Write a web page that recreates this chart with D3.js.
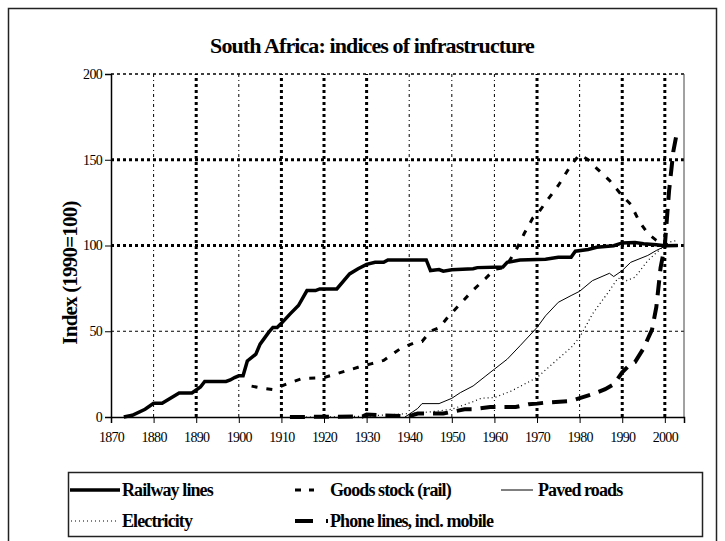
<!DOCTYPE html>
<html>
<head>
<meta charset="utf-8">
<script src="https://cdn.jsdelivr.net/npm/d3@7"></script>
<style>
  body { margin: 0; background: #fff; }
  svg text { font-family: "Liberation Serif", "Times New Roman", serif !important; }
</style>
</head>
<body>
<svg id="chart"></svg>
<script>
// values, index 1990 = 100
const railYears = [1873,1875,1878,1880,1882,1886,1889,1891,1892,1897,1898,1899,1900,1901,1902,1904,1905,1907,1908,1909,1910,1912,1914,1916,1918,1919,1923,1926,1928,1930,1932,1934,1935,1944,1945,1947,1948,1950,1955,1956,1962,1963,1966,1972,1975,1978,1979,1982,1984,1988,1990,1993,1995,1998,2000,2003];
const railValues = [0,1,4.5,8,8,14,14,17.5,20.7,20.7,21.6,23,24,24,32.7,36.6,42.5,49.3,52.2,52.2,54.6,60,65,73.7,73.7,74.7,74.7,83.4,86.4,89,90.2,90.2,91.6,91.6,85.4,86,85,85.8,86.5,87.1,87.5,90.2,91.6,92,93.2,93.2,96.7,97.7,99,99.9,101.5,101.8,101,100.5,99.8,100];

const goodsYears = [1903,1905,1908,1910,1912,1915,1920,1924,1928,1931,1934,1938,1941,1943,1945,1947,1949,1952,1955,1958,1960,1962,1963,1965,1967,1969,1970,1972,1975,1978,1980,1982,1984,1987,1990,1992,1994,1996,1998,2000];
const goodsValues = [18,17,16,18,20,22.5,23,26,29,31,33,40,43,44,50,52,58,66,74,81,86,87,89,97,107,116,118,125,135,147,153,150,145,138,129,124,114,107,103,100];

const pavedYears = [1939,1940,1942,1943,1947,1950,1952,1955,1958,1960,1963,1966,1970,1972,1975,1978,1980,1983,1987,1988,1990,1992,1996,1998,2000,2001];
const pavedValues = [0,1.6,5,7.8,7.8,10.9,14.2,18.1,24,27.9,33.7,41.5,52.2,59,66.9,70.8,73.3,79.5,83.8,81.9,85.4,90.2,94.2,97.1,99.5,100];

const elecYears = [1912,1920,1930,1940,1945,1950,1955,1957,1960,1964,1970,1974,1978,1980,1983,1987,1989,1991,1993,1996,1999,2000,2001,2003];
const elecValues = [0,0,0.5,2,3,4.5,9,11,11.3,15.2,23,31.8,40.5,46.4,60,73.7,81,79.5,81.5,91.2,98,100,102,103];

const phoneYears = [1912,1929,1930,1933,1940,1942,1948,1950,1953,1955,1959,1965,1968,1970,1972,1978,1983,1986,1988,1990,1992,1993,1995,1997,1998,1999,2000,2001,2002,2003];
const phoneValues = [0,0.3,1.5,1,0.5,2,2,3,4.5,4.5,5.8,5.8,7.4,7.8,8.4,9.4,13.3,16.2,19,26,31,32,40,51,64,87,100,132,155,168];

const xTicks = [1870,1880,1890,1900,1910,1920,1930,1940,1950,1960,1970,1980,1990,2000];
const yTicks = [0,50,100,150,200];
const heavyX = [1890,1910,1920,1930,1970,1990,2000];
const heavyY = [100,150];

const W = 725, H = 541;
const svg = d3.select("#chart").attr("width", W).attr("height", H);

// chart frame (bottom edge runs off the page)
svg.append("rect")
  .attr("x", 8.5).attr("y", 8.5)
  .attr("width", 708).attr("height", 545)
  .attr("fill", "none").attr("stroke", "#222").attr("stroke-width", 1.5);

svg.append("text")
  .attr("x", 372).attr("y", 53)
  .attr("text-anchor", "middle")
  .attr("font-size", 22).attr("font-weight", "bold")
  .attr("letter-spacing", -0.9)
  .text("South Africa: indices of infrastructure");

const x = d3.scaleLinear().domain([1870, 2004.5]).range([111, 684]);
const y = d3.scaleLinear().domain([0, 200]).range([417, 74]);

// grid
const grid = svg.append("g");
xTicks.slice(1).forEach(t => {
  const heavy = heavyX.includes(t);
  grid.append("line")
    .attr("x1", x(t)).attr("x2", x(t)).attr("y1", y(0)).attr("y2", y(200))
    .attr("stroke", "#000")
    .attr("stroke-width", heavy ? 3 : 1)
    .attr("stroke-dasharray", heavy ? "3,3" : "3,3,1,3");
});
yTicks.slice(1).forEach(t => {
  const heavy = heavyY.includes(t);
  grid.append("line")
    .attr("x1", x(1870)).attr("x2", x(2004.5)).attr("y1", y(t)).attr("y2", y(t))
    .attr("stroke", "#000")
    .attr("stroke-width", heavy ? 3 : (t == 200 ? 1.5 : 1))
    .attr("stroke-dasharray", "3,3");
});
// right border of plot
svg.append("line")
  .attr("x1", x(2004.5)).attr("x2", x(2004.5)).attr("y1", y(0)).attr("y2", y(200))
  .attr("stroke", "#444").attr("stroke-width", 1);

// axes
const yAxis = svg.append("g")
  .attr("transform", `translate(${x(1870)},0)`)
  .call(d3.axisLeft(y).tickValues(yTicks).tickSize(6).tickPadding(3));
const xAxis = svg.append("g")
  .attr("transform", `translate(0,${y(0)})`)
  .call(d3.axisBottom(x).tickValues(xTicks).tickSize(6).tickPadding(9).tickFormat(d3.format("d")));
[yAxis, xAxis].forEach(a => {
  a.attr("font-family", null).attr("font-size", null);
  a.select(".domain").attr("stroke", "#000").attr("stroke-width", 1.5);
  a.selectAll(".tick line").attr("stroke", "#000");
  a.selectAll("text").style("font-size", "14px")
    .attr("letter-spacing", -0.7).attr("fill", "#000");
});

svg.append("text")
  .attr("transform", "translate(77,273) rotate(-90)")
  .attr("text-anchor", "middle")
  .attr("font-size", 21).attr("font-weight", "bold")
  .attr("letter-spacing", -0.8)
  .text("Index (1990=100)");

const series = [
  { name: "Railway lines", years: railYears, values: railValues, width: 3.5, dash: null },
  { name: "Goods stock (rail)", years: goodsYears, values: goodsValues, width: 3, dash: "6,9" },
  { name: "Paved roads", years: pavedYears, values: pavedValues, width: 1, dash: null },
  { name: "Electricity", years: elecYears, values: elecValues, width: 1.2, dash: "1,3" },
  { name: "Phone lines, incl. mobile", years: phoneYears, values: phoneValues, width: 4, dash: "15,9" }
];

const line = d3.line().x(d => x(d[0])).y(d => y(d[1]));
series.forEach(s => {
  svg.append("path")
    .datum(s.years.map((yr, i) => [yr, s.values[i]]))
    .attr("d", line)
    .attr("fill", "none")
    .attr("stroke", "#000")
    .attr("stroke-width", s.width)
    .attr("stroke-dasharray", s.dash);
});

// legend
const lg = svg.append("g");
lg.append("rect")
  .attr("x", 68.5).attr("y", 472.5).attr("width", 634).attr("height", 64)
  .attr("fill", "#fff").attr("stroke", "#222").attr("stroke-width", 1.5);
const legendPos = [
  { sx: 70, ex: 120, tx: 122, ty: 490, dash: null },
  { sx: 295, ex: 314, tx: 330, ty: 490, dash: "6,8" },
  { sx: 501, ex: 533, tx: 538, ty: 490, dash: null },
  { sx: 71, ex: 118, tx: 122, ty: 521, dash: "1,3" },
  { sx: 295, ex: 328, tx: 330, ty: 521, dash: "18,13" }
];
series.forEach((s, i) => {
  const p = legendPos[i];
  lg.append("line")
    .attr("x1", p.sx).attr("x2", p.ex).attr("y1", p.ty).attr("y2", p.ty)
    .attr("stroke", "#000").attr("stroke-width", s.width)
    .attr("stroke-dasharray", p.dash);
  lg.append("text")
    .attr("x", p.tx).attr("y", p.ty + 6)
    .attr("font-size", 18).attr("font-weight", "bold")
    .attr("letter-spacing", -0.9)
    .text(s.name);
});
</script>
</body>
</html>
